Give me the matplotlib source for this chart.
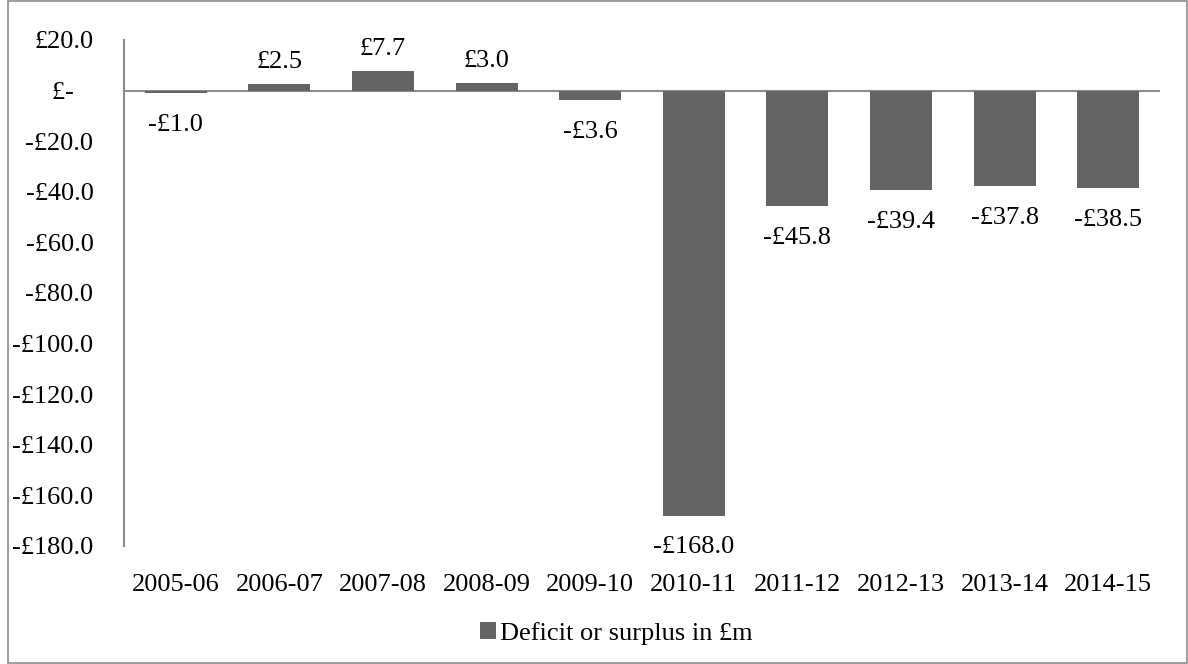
import matplotlib.pyplot as plt
from matplotlib.patches import Rectangle
import numpy as np

years = ['2005-06', '2006-07', '2007-08', '2008-09', '2009-10',
         '2010-11', '2011-12', '2012-13', '2013-14', '2014-15']
balance = [-1.0, 2.5, 7.7, 3.0, -3.6, -168.0, -45.8, -39.4, -37.8, -38.5]
yticks = [20, 0, -20, -40, -60, -80, -100, -120, -140, -160, -180]

plt.rcParams['font.family'] = ['Liberation Serif', 'DejaVu Serif']
plt.rcParams['font.size'] = 19

bar_col = '#646464'
axis_col = '#8c8c8c'

fig = plt.figure(figsize=(11.88, 6.64), dpi=100)
ax = fig.add_axes([124 / 1188, 1 - 546 / 664, 1036 / 1188, 506 / 664])

x = np.arange(len(years))
bars = ax.bar(x, balance, width=0.6, color=bar_col, label='Deficit or surplus in £m', zorder=2)

def money(v):
    if v == 0:
        return '£-   '
    return ('-' if v < 0 else '') + '£%.1f' % abs(v)

# data labels above / below bars
for xi, v in zip(x, balance):
    if v >= 0:
        ax.annotate(money(v), (xi, v), xytext=(0, 8), textcoords='offset points',
                    ha='center', va='bottom')
    else:
        ax.annotate(money(v), (xi, v), xytext=(0, -15), textcoords='offset points',
                    ha='center', va='top')

ax.set_xlim(-0.5, len(years) - 0.5)
ax.set_ylim(-180, 20)
ax.set_yticks(yticks)
ax.set_yticklabels([money(t) for t in yticks])
ax.set_xticks(x)
ax.set_xticklabels(years)
ax.tick_params(axis='y', length=0, pad=22)
ax.tick_params(axis='x', length=0, pad=20)

for s in ['top', 'right', 'bottom']:
    ax.spines[s].set_visible(False)
ax.spines['left'].set_color(axis_col)
ax.spines['left'].set_linewidth(1.5)
ax.axhline(0, color=axis_col, linewidth=1.5, zorder=1)

ax.legend(loc='center', bbox_to_anchor=(0.475, -0.172), frameon=False,
          handlelength=0.6, handleheight=0.6, handletextpad=0.15)

fig.patches.append(Rectangle((8 / 1188, 0.002), 1 - 9 / 1188, 0.996,
                             transform=fig.transFigure, fill=False,
                             edgecolor=axis_col, linewidth=1.2))

fig.savefig('out.png', dpi=100)
